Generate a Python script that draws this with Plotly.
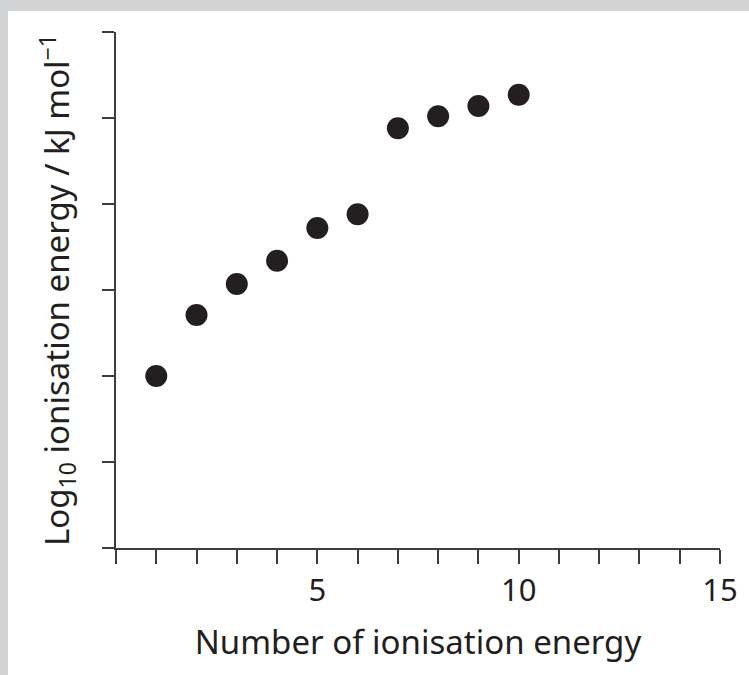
import plotly.graph_objects as go

ionisation_number = [1, 2, 3, 4, 5, 6, 7, 8, 9, 10]
log_ie = [3.00, 3.355, 3.535, 3.67, 3.86, 3.94, 4.44, 4.51, 4.57, 4.635]
x_label_vals = [5, 10, 15]
x_label_text = ["5", "10", "15"]
y_tick_vals = [2.0, 2.5, 3.0, 3.5, 4.0, 4.5, 5.0]

W, H = 749, 675
L, R, T, B = 116, 29, 32, 127
pw, ph = W - L - R, H - T - B

def px_to_paper_x(px):
    return (px - L) / pw

def py_to_paper_y(py):
    return (H - B - py) / ph

FONT = "Noto Sans"
axis_col = "#3d3d3d"
text_col = "#231f20"

fig = go.Figure()
fig.add_trace(go.Scatter(
    x=ionisation_number, y=log_ie, mode="markers",
    marker=dict(size=22, color="#231f20", line=dict(width=0)),
    showlegend=False, hoverinfo="x+y",
))

fig.update_layout(
    width=W, height=H,
    margin=dict(l=L, r=R, t=T, b=B, autoexpand=False),
    paper_bgcolor="#d1d3d4",
    plot_bgcolor="rgba(0,0,0,0)",
    font=dict(family=FONT, color=text_col),
    shapes=[dict(
        type="rect", xref="paper", yref="paper", layer="below",
        x0=px_to_paper_x(8), x1=px_to_paper_x(W + 5),
        y0=py_to_paper_y(H + 5), y1=py_to_paper_y(11),
        fillcolor="white", line=dict(width=0),
    )],
    xaxis=dict(
        range=[0, 15], tickmode="array", tickvals=x_label_vals, ticktext=x_label_text,
        ticks="outside", ticklen=14, tickwidth=2, tickcolor=axis_col,
        minor=dict(tick0=0, dtick=1, ticks="outside", ticklen=14, tickwidth=2,
                   tickcolor=axis_col, showgrid=False),
        showline=True, linecolor=axis_col, linewidth=2,
        showgrid=False, zeroline=False,
        tickfont=dict(size=31, family=FONT, color=text_col),
        title=dict(text="Number of ionisation energy",
                   font=dict(size=33, family=FONT, color=text_col), standoff=22),
    ),
    yaxis=dict(
        range=[2, 5], tickmode="array", tickvals=y_tick_vals, showticklabels=False,
        ticks="outside", ticklen=12, tickwidth=2, tickcolor=axis_col,
        showline=True, linecolor=axis_col, linewidth=2,
        showgrid=False, zeroline=False,
        title=dict(text="Log<sub>10</sub> ionisation energy / kJ mol<sup>−1</sup>",
                   font=dict(size=33, family=FONT, color=text_col), standoff=22),
    ),
)

fig.write_html("out.html", config={"displayModeBar": False},
               post_script="document.body.style.margin='0px';document.body.style.padding='0px';")
